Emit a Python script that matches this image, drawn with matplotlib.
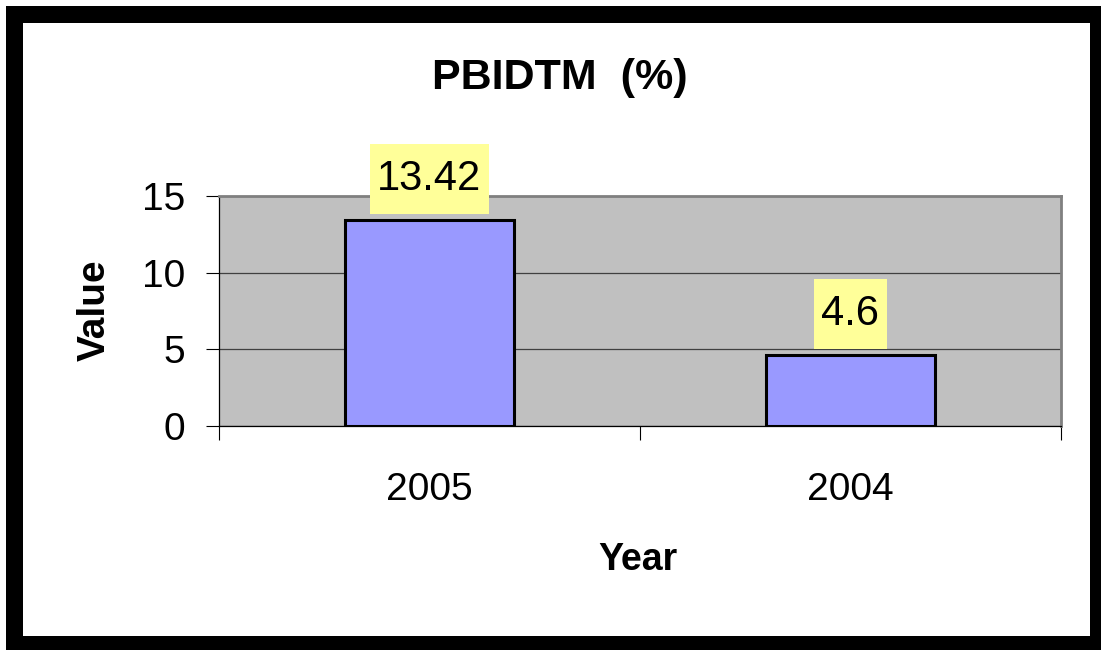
import matplotlib
matplotlib.use("Agg")
from matplotlib import pyplot as plt
from matplotlib.patches import Rectangle

years = ["2005", "2004"]
values = [13.42, 4.6]
y_ticks = [0, 5, 10, 15]

plt.rcParams["font.family"] = ["Liberation Sans", "DejaVu Sans"]

W, H = 1101, 650
fig = plt.figure(figsize=(W / 100, H / 100), dpi=100, facecolor="white")

# black frame round the chart
fig.patches.append(Rectangle((6 / W, 0), 1 - 6 / W, 1 - 6 / H, transform=fig.transFigure,
                             facecolor="black", edgecolor="none", zorder=-3))
fig.patches.append(Rectangle((23 / W, 14 / H), 1067 / W, 613 / H, transform=fig.transFigure,
                             facecolor="white", edgecolor="none", zorder=-2))

ax = fig.add_axes([219 / W, (H - 426) / H, 842 / W, 230 / H])
ax.set_facecolor("#C0C0C0")

x = range(len(years))
ax.bar(x, values, width=0.4, color="#9999FF", edgecolor="black", linewidth=2.2, zorder=3)

for xi, v in zip(x, values):
    ax.annotate(f"{v:g}", (xi, v), xytext=(0, 30), textcoords="offset points",
                ha="center", va="center", fontsize=30, zorder=4,
                bbox=dict(boxstyle="square,pad=0.18", mutation_aspect=2,
                          facecolor="#FFFF99", edgecolor="none"))

ax.set_xlim(-0.5, len(years) - 0.5)
ax.set_ylim(0, 15)
ax.set_yticks(y_ticks)
ax.yaxis.grid(True, color="#404040", linewidth=0.9, zorder=1)
ax.set_axisbelow(True)

ax.set_xticks(list(x))
ax.set_xticklabels(years)
ax.set_xticks([i - 0.5 for i in range(len(years) + 1)], minor=True)
ax.tick_params(axis="x", which="major", length=0, pad=33, labelsize=28)
ax.tick_params(axis="x", which="minor", length=10, width=0.8, color="black", direction="out")
ax.tick_params(axis="y", length=9.5, width=0.8, color="black", direction="out", pad=15, labelsize=28)

for side in ["top", "right"]:
    ax.spines[side].set_color("#808080")
    ax.spines[side].set_linewidth(2)
for side in ["left", "bottom"]:
    ax.spines[side].set_color("black")
    ax.spines[side].set_linewidth(0.9)

fig.text(560 / W, 1 - 78 / H, "PBIDTM  (%)", ha="center", va="center", fontsize=31, fontweight="bold")
fig.text(95 / W, 1 - 310 / H, "Value", ha="center", va="center", rotation=90, fontsize=28, fontweight="bold")
fig.text(638 / W, 1 - 560 / H, "Year", ha="center", va="center", fontsize=27, fontweight="bold")

fig.savefig("out.png", dpi=100, facecolor="white")
